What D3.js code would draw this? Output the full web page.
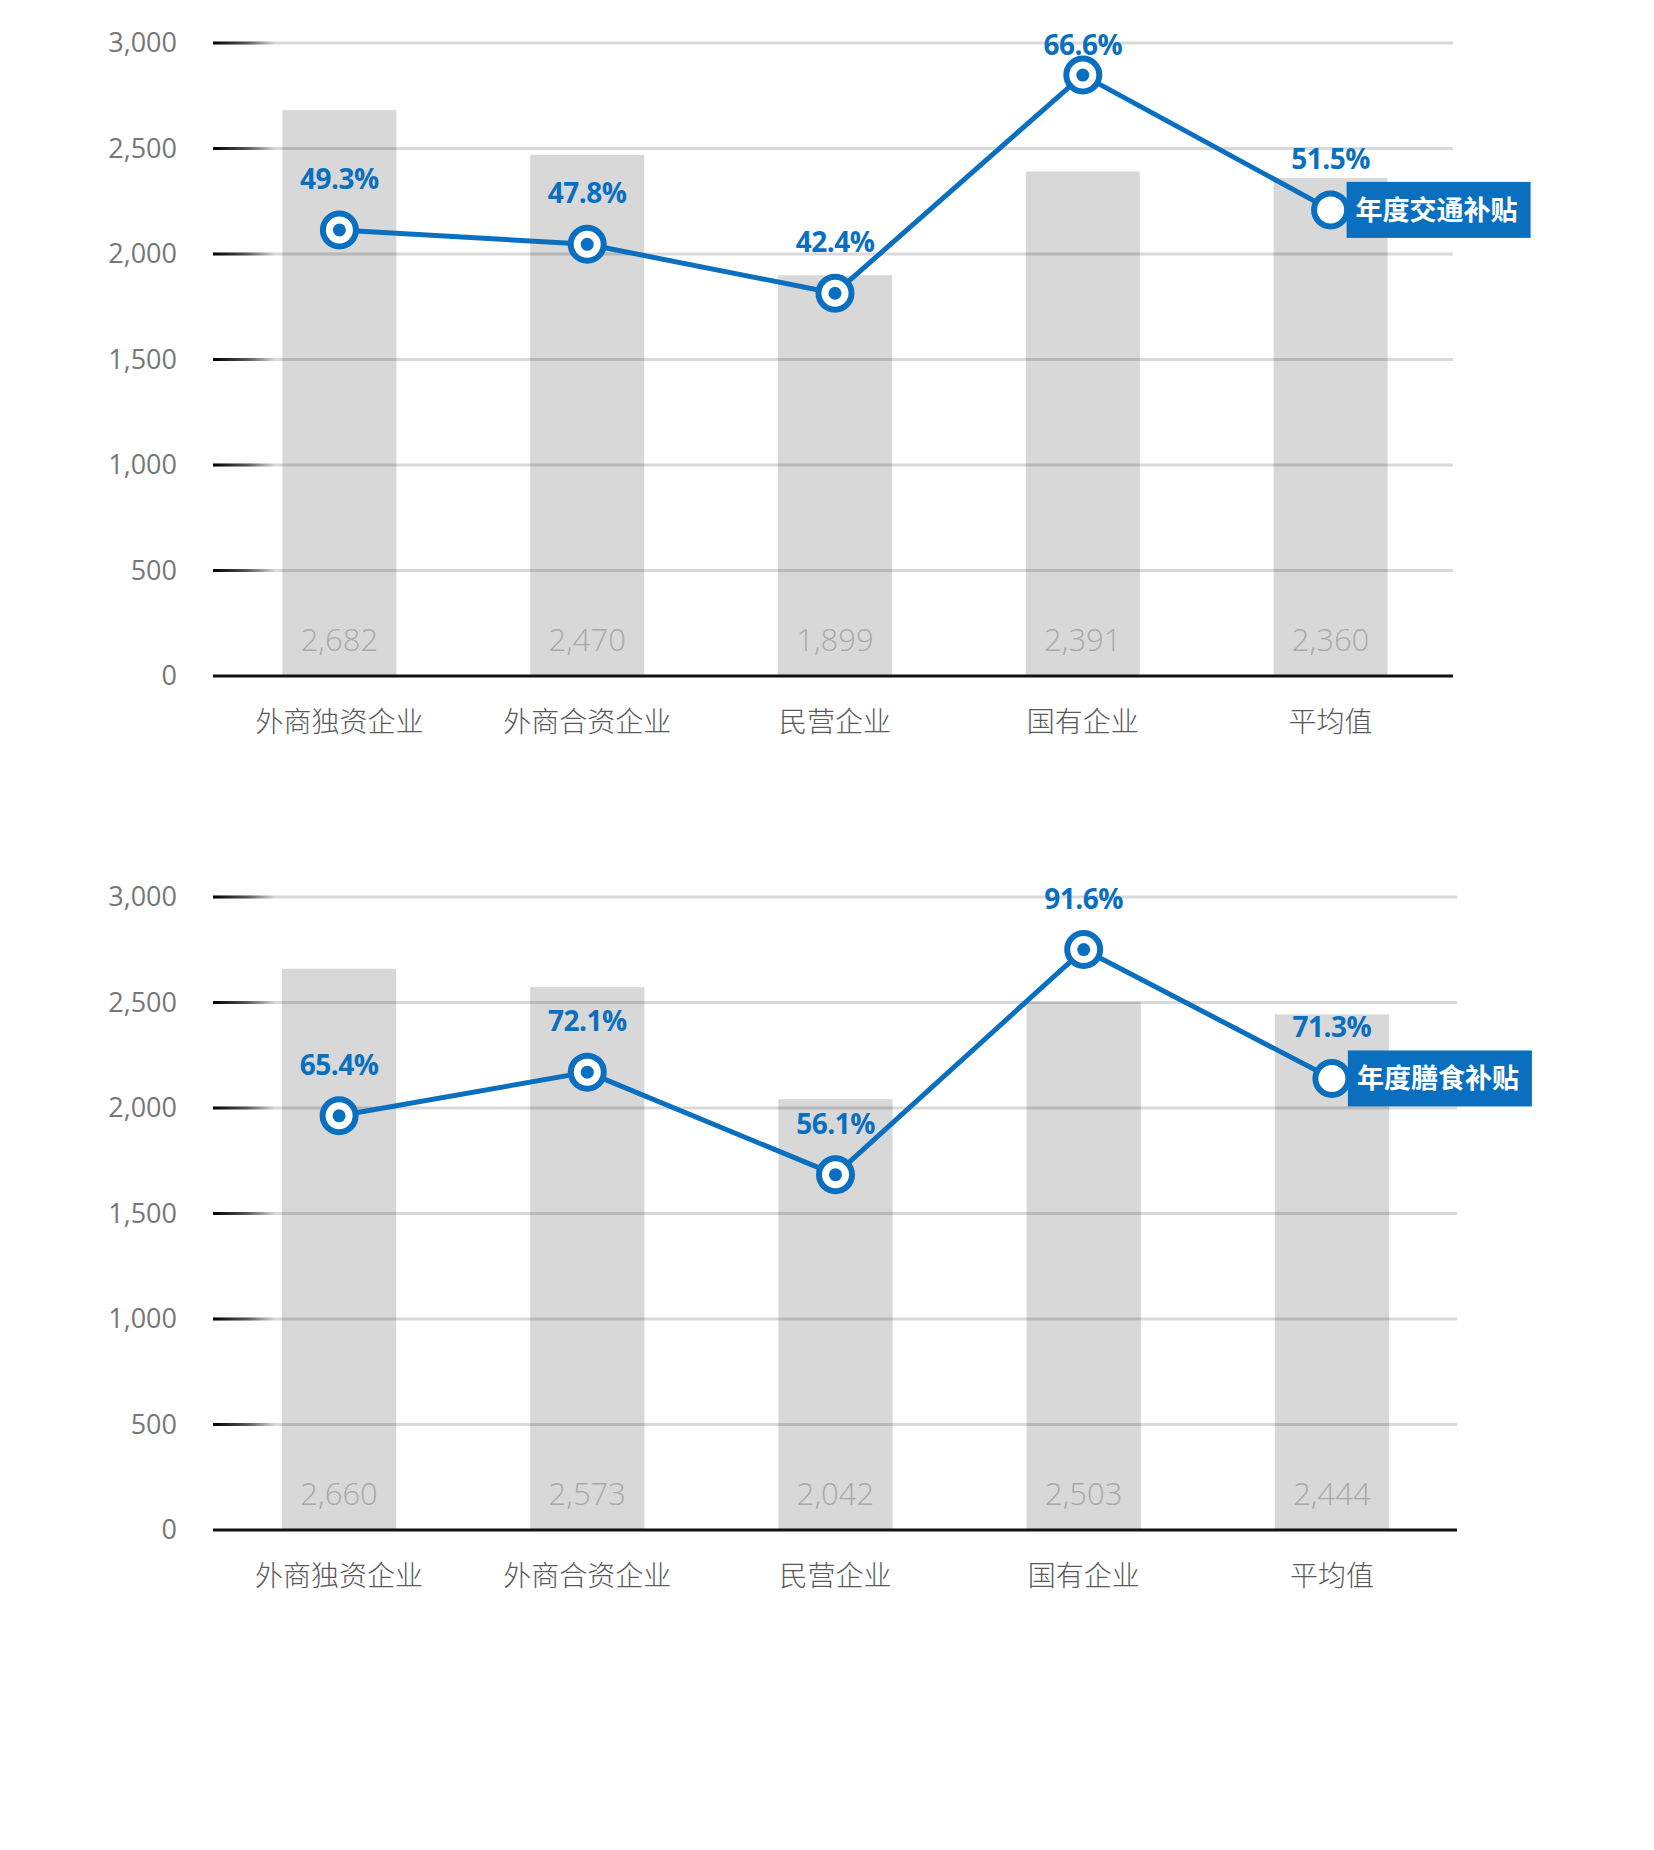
<!DOCTYPE html>
<html>
<head>
<meta charset="utf-8">
<script src="https://cdn.jsdelivr.net/npm/d3@7"></script>
<style>
  body { margin: 0; background: #fff; }
  svg { display: block; }
  text { font-family: "Open Sans", "Noto Sans CJK SC", sans-serif; }
</style>
</head>
<body>
<div id="chart"></div>
<script>
// data
const categories = ['外商独资企业', '外商合资企业', '民营企业', '国有企业', '平均值'];
const yTicks = [0, 500, 1000, 1500, 2000, 2500, 3000];

const transportBars = [2682, 2470, 1899, 2391, 2360];
const transportLine = [2114, 2046, 1814, 2848, 2209];
const transportPct  = ['49.3%', '47.8%', '42.4%', '66.6%', '51.5%'];

const mealBars = [2660, 2573, 2042, 2503, 2444];
const mealLine = [1963, 2170, 1684, 2751, 2140];
const mealPct  = ['65.4%', '72.1%', '56.1%', '91.6%', '71.3%'];

const seriesNames = ['年度交通补贴', '年度膳食补贴'];

const W = 1654, H = 1850;
const blue = '#0a6fbf';
const fmt = d3.format(',');

const svg = d3.select('#chart').append('svg')
  .attr('width', W).attr('height', H)
  .attr('viewBox', `0 0 ${W} ${H}`);

// gradient for the left end of each gridline
const defs = svg.append('defs');
const grad = defs.append('linearGradient')
  .attr('id', 'tickFade')
  .attr('x1', '0%').attr('x2', '100%').attr('y1', '0%').attr('y2', '0%');
grad.append('stop').attr('offset', '0%').attr('stop-color', '#000').attr('stop-opacity', 1);
grad.append('stop').attr('offset', '55%').attr('stop-color', '#000').attr('stop-opacity', 0.6);
grad.append('stop').attr('offset', '100%').attr('stop-color', '#000').attr('stop-opacity', 0);

function drawPanel(opt) {
  const g = svg.append('g');
  const left = 213;

  const y = d3.scaleLinear().domain([0, 3000]).range([opt.bottom, opt.top]);
  const x = d3.scaleBand()
    .domain(categories)
    .range(opt.xRange)
    .paddingInner(0.54)
    .paddingOuter(0.27);
  const cx = d => x(d) + x.bandwidth() / 2;

  // bars
  g.append('g').selectAll('rect').data(categories).join('rect')
    .attr('x', d => x(d))
    .attr('y', (d, i) => y(opt.bars[i]))
    .attr('width', x.bandwidth())
    .attr('height', (d, i) => y(0) - y(opt.bars[i]))
    .attr('fill', '#d8d8d8');

  // bar values
  g.append('g').selectAll('text').data(categories).join('text')
    .attr('x', d => cx(d))
    .attr('y', y(0) - 25)
    .attr('text-anchor', 'middle')
    .attr('font-size', 31)
    .attr('font-weight', 300)
    .attr('fill', '#a9a9a9')
    .text((d, i) => fmt(opt.bars[i]));

  // gridlines (drawn over bars)
  const grid = g.append('g');
  const gt = yTicks.filter(t => t > 0);
  grid.selectAll('line.grid').data(gt).join('line')
    .attr('class', 'grid')
    .attr('x1', left).attr('x2', opt.right)
    .attr('y1', d => y(d)).attr('y2', d => y(d))
    .attr('stroke', '#000').attr('stroke-opacity', 0.15)
    .attr('stroke-width', 3);
  grid.selectAll('rect.fade').data(gt).join('rect')
    .attr('class', 'fade')
    .attr('x', left).attr('width', 62)
    .attr('y', d => y(d) - 1.5).attr('height', 3)
    .attr('fill', 'url(#tickFade)');

  // baseline
  g.append('line')
    .attr('x1', left).attr('x2', opt.right)
    .attr('y1', y(0)).attr('y2', y(0))
    .attr('stroke', '#111').attr('stroke-width', 3);

  // y tick labels
  g.append('g').selectAll('text').data(yTicks).join('text')
    .attr('x', 177)
    .attr('y', d => y(d))
    .attr('dy', '0.35em')
    .attr('text-anchor', 'end')
    .attr('font-size', 27)
    .attr('fill', '#777')
    .text(d => fmt(d));

  // category labels
  g.append('g').selectAll('text').data(categories).join('text')
    .attr('x', d => cx(d))
    .attr('y', y(0) + 46)
    .attr('dy', '0.35em')
    .attr('text-anchor', 'middle')
    .attr('font-size', 28)
    .attr('font-weight', 300)
    .attr('fill', '#595959')
    .text(d => d);

  // line
  const pts = categories.map((c, i) => [cx(c), y(opt.line[i])]);
  g.append('path')
    .attr('d', d3.line()(pts))
    .attr('fill', 'none')
    .attr('stroke', blue)
    .attr('stroke-width', 5)
    .attr('stroke-linejoin', 'round');

  // series name box at the last point
  const last = pts[pts.length - 1];
  g.append('rect')
    .attr('x', last[0] + 16).attr('y', last[1] - 28)
    .attr('width', 184).attr('height', 56)
    .attr('fill', blue);
  g.append('text')
    .attr('x', last[0] + 25).attr('y', last[1])
    .attr('dy', '0.36em')
    .attr('font-size', 27)
    .attr('font-weight', 700)
    .attr('fill', '#fff')
    .text(opt.name);

  // markers
  const mk = g.append('g').selectAll('g').data(pts).join('g')
    .attr('transform', d => `translate(${d[0]},${d[1]})`);
  mk.append('circle')
    .attr('r', 16.5)
    .attr('fill', '#fff')
    .attr('stroke', blue)
    .attr('stroke-width', 6);
  mk.filter((d, i) => i < pts.length - 1).append('circle')
    .attr('r', 6.5)
    .attr('fill', blue);

  // percentage labels
  g.append('g').selectAll('text').data(pts).join('text')
    .attr('x', d => d[0])
    .attr('y', d => Math.max(d[1] - 41, opt.top + 12))
    .attr('text-anchor', 'middle')
    .attr('font-size', 28)
    .attr('font-weight', 700)
    .attr('letter-spacing', -0.5)
    .attr('fill', blue)
    .text((d, i) => opt.pct[i]);
}

drawPanel({ top: 43, bottom: 676, right: 1453, xRange: [215.5, 1454.5],
  bars: transportBars, line: transportLine, pct: transportPct, name: seriesNames[0] });
drawPanel({ top: 897, bottom: 1530, right: 1457, xRange: [215, 1456],
  bars: mealBars, line: mealLine, pct: mealPct, name: seriesNames[1] });
</script>
</body>
</html>
